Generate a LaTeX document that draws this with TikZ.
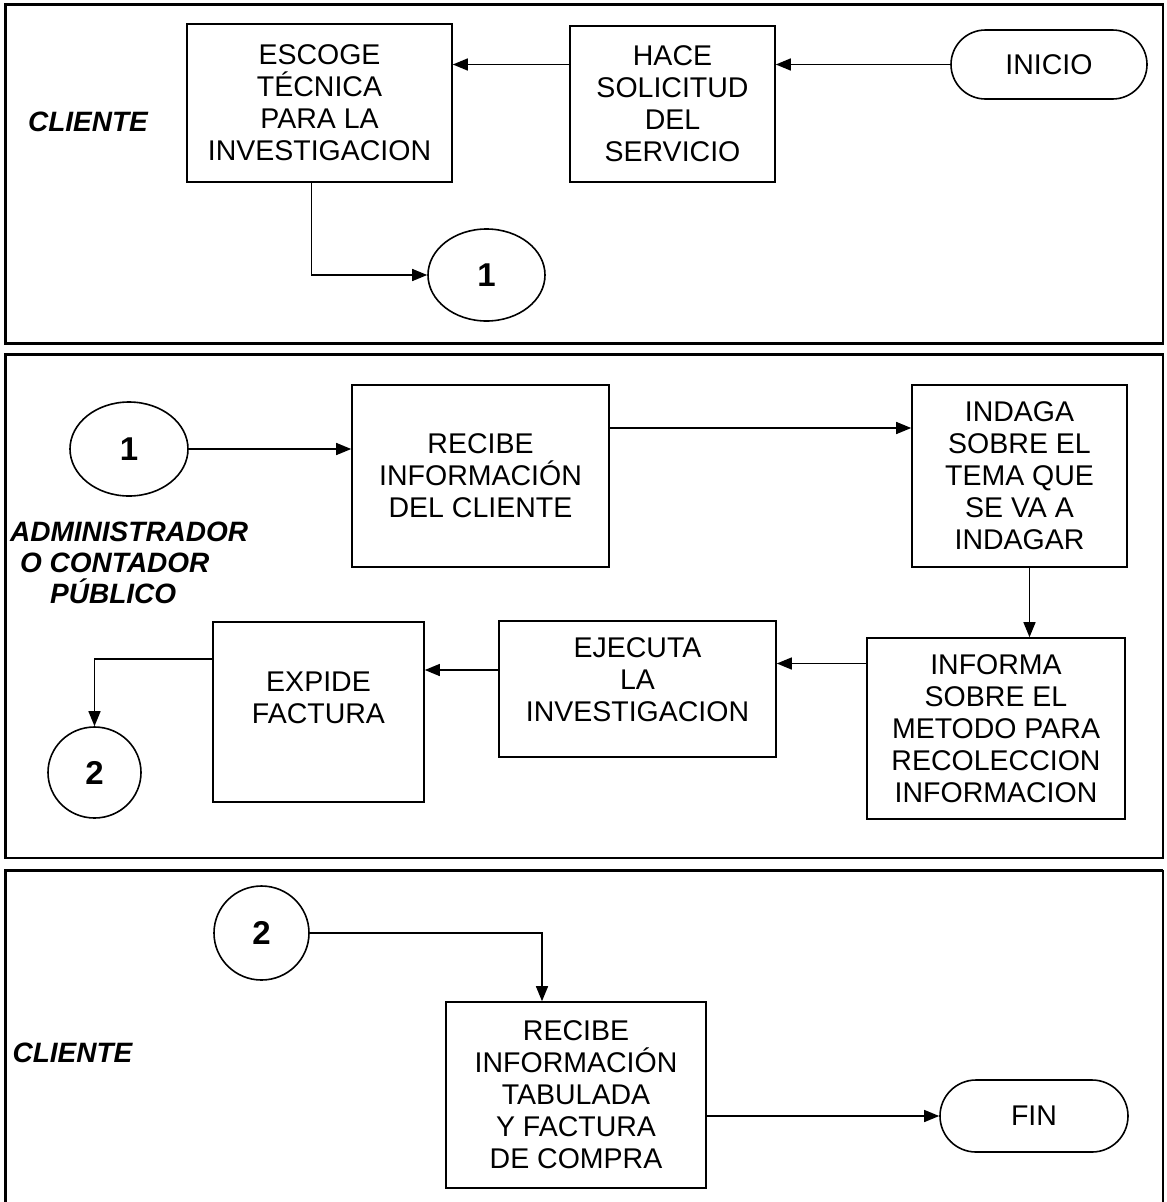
\documentclass[tikz,border=0pt]{standalone}
\usepackage{fontspec}
\setmainfont{Liberation Sans}
\usetikzlibrary{arrows.meta,shapes.geometric,shapes.misc}

\begin{document}
\begin{tikzpicture}[x=1pt,y=-1pt,
  every node/.style={font=\fontsize{28.5}{32}\selectfont},
  box/.style={draw, line width=1.6pt, rectangle, align=center, inner sep=0pt},
  txt/.style={align=center, inner sep=0pt},
  term/.style={draw, line width=1.6pt, rounded rectangle, inner sep=0pt},
  conn/.style={draw, line width=1.6pt, ellipse, inner sep=0pt,
               font=\fontsize{33}{36}\selectfont\bfseries},
  arr/.style={line width=1.4pt, -{Triangle[length=15pt,width=12pt]}},
  lane/.style={font=\fontsize{28}{31}\selectfont\bfseries\itshape,
               align=left, inner sep=0pt},
  lanebox/.style={line width=2.5pt},
  laneedge/.style={line width=3.5pt},
]
\useasboundingbox (0,0) rectangle (1167,1202);

% ---------- swimlane frames ----------
\draw[lanebox] (5.5,4.7) rectangle (1162.8,343.3);
\draw[laneedge] (5.5,343.3) -- (5.5,4.7) -- (1162.8,4.7);
\draw[lanebox] (5.5,354.7) rectangle (1162.8,858);
\draw[laneedge] (5.5,858) -- (5.5,354.7) -- (1162.8,354.7);
\draw[lanebox] (1162.8,1215) -- (1162.8,870.3);
\draw[laneedge] (5.5,1215) -- (5.5,870.3) -- (1162.8,870.3);

% ---------- lane 1: cliente ----------
\node[lane] (lane1) at (88,122) {CLIENTE};
\node[box, minimum width=265pt, minimum height=158pt] (escoge) at (319.5,103)
  {ESCOGE\\TÉCNICA\\PARA LA\\INVESTIGACION};
\node[box, minimum width=205pt, minimum height=156pt] (hace) at (672.5,104)
  {HACE\\SOLICITUD\\DEL\\SERVICIO};
\node[term, minimum width=196pt, minimum height=69pt] (inicio) at (1049,64.5) {INICIO};
\node[conn, minimum width=117pt, minimum height=92pt] (c1a) at (486.5,275) {1};

\draw[arr] (inicio.west) -- (inicio.west -| hace.east);
\draw[arr] (inicio.west -| hace.west) -- (inicio.west -| escoge.east);
\draw[arr] ([xshift=-8pt]escoge.south) |- (c1a.west);

% ---------- lane 2: administrador o contador publico ----------
\node[lane, anchor=west] (lane2) at (10,563)
  {ADMINISTRADOR\\\hspace*{10pt}O CONTADOR\\\hspace*{40pt}PÚBLICO};
\node[conn, minimum width=118pt, minimum height=94pt] (c1b) at (129,449) {1};
\node[box, minimum width=257pt, minimum height=182pt] (recibe) at (480.5,476)
  {RECIBE\\INFORMACIÓN\\DEL CLIENTE};
\node[box, minimum width=215pt, minimum height=182pt] (indaga) at (1019.5,476)
  {INDAGA\\SOBRE EL\\TEMA QUE\\SE VA A\\INDAGAR};
\node[box, minimum width=258pt, minimum height=181pt] (informa) at (996,728.5)
  {INFORMA\\SOBRE EL\\METODO PARA\\RECOLECCION\\INFORMACION};
\node[box, minimum width=277pt, minimum height=136pt] (ejecuta) at (637.5,689) {};
\node[txt] (ejecutaTxt) at (637.5,680) {EJECUTA\\LA\\INVESTIGACION};
\node[box, minimum width=211pt, minimum height=180pt] (expide) at (318.5,712) {};
\node[txt] (expideTxt) at (318.5,698) {EXPIDE\\FACTURA};
\node[conn, minimum width=93pt, minimum height=91pt] (c2a) at (94.5,772.5) {2};

\draw[arr] (c1b.east) -- (c1b.east -| recibe.west);
\draw[arr] ([yshift=48pt]recibe.east) -- ([yshift=48pt]recibe.east -| indaga.west);
\draw[arr] ([xshift=10pt]indaga.south) -- ([xshift=10pt]indaga.south |- informa.north);
\draw[arr] ([yshift=65pt]informa.west) -- ([yshift=65pt]informa.west -| ejecuta.east);
\draw[arr] ([yshift=19pt]ejecuta.west) -- ([yshift=19pt]ejecuta.west -| expide.east);
\draw[arr] ([yshift=53pt]expide.west) -| (c2a.north);

% ---------- lane 3: cliente ----------
\node[lane] (lane3) at (72.5,1053) {CLIENTE};
\node[conn, minimum width=95pt, minimum height=94pt] (c2b) at (261.5,933) {2};
\node[box, minimum width=260pt, minimum height=186pt] (recibe2) at (576,1095)
  {RECIBE\\INFORMACIÓN\\TABULADA\\Y FACTURA\\DE COMPRA};
\node[term, minimum width=188pt, minimum height=72pt] (fin) at (1034,1116) {FIN};

\draw[arr] (c2b.east) -| ([xshift=-34pt]recibe2.north);
\draw[arr] (fin.west -| recibe2.east) -- (fin.west);
\end{tikzpicture}
\end{document}
